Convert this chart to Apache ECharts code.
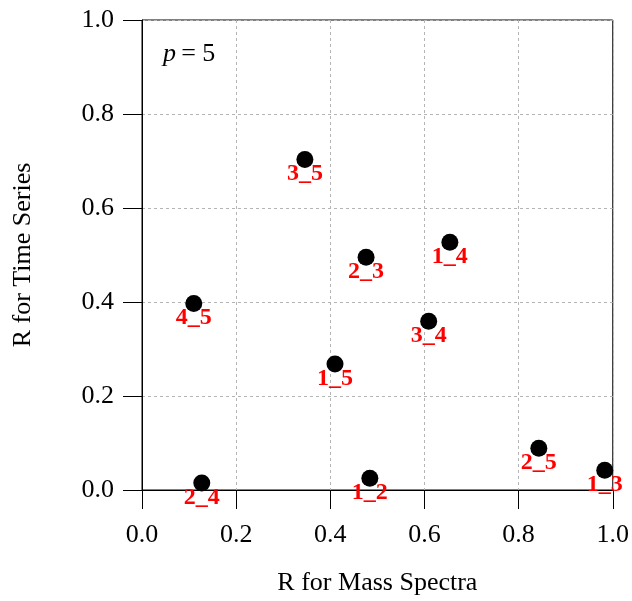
<!DOCTYPE html>
<html>
<head>
<meta charset="utf-8">
<script src="https://cdn.jsdelivr.net/npm/echarts@6/dist/echarts.min.js"></script>
<style>
  html, body { margin: 0; padding: 0; background: #fff; }
  #main { width: 632px; height: 601px; }
</style>
</head>
<body>
<div id="main"></div>
<script>
// pair names and their R values
var pairs = ['3_5', '2_3', '1_4', '3_4', '1_5', '4_5', '2_4', '1_2', '2_5', '1_3'];
var rMass = [0.346, 0.476, 0.654, 0.609, 0.410, 0.110, 0.127, 0.484, 0.843, 0.983];
var rTime = [0.703, 0.495, 0.527, 0.359, 0.268, 0.397, 0.015, 0.025, 0.089, 0.042];
var tickLabels = ['0.0', '0.2', '0.4', '0.6', '0.8', '1.0'];

var serif = '"Liberation Serif", "DejaVu Serif", serif';

var myChart = echarts.init(document.getElementById('main'));

var pts = pairs.map(function (p, i) {
    return { value: [rMass[i], rTime[i]], name: p };
});

function axis(name, gap, labelMargin) {
    return {
        type: 'value',
        min: 0, max: 1, interval: 0.2,
        name: name,
        nameLocation: 'middle',
        nameGap: gap,
        nameTextStyle: { fontFamily: serif, fontSize: 26, color: '#000' },
        axisLine: { show: true, onZero: false, lineStyle: { color: '#000', width: 1 } },
        axisTick: { show: true, inside: false, length: 19, lineStyle: { color: '#000' } },
        axisLabel: {
            fontFamily: serif, fontSize: 26, color: '#000', margin: labelMargin,
            formatter: function (v) { return tickLabels[Math.round(v / 0.2)]; }
        },
        splitLine: {
            show: true,
            lineStyle: { color: '#b4b4b4', type: [3, 3], width: 1 }
        }
    };
}

myChart.setOption({
    animation: false,
    grid: {
        left: 142, right: 19, top: 20, bottom: 110,
        show: true, borderColor: '#000', borderWidth: 1,
        backgroundColor: 'transparent'
    },
    xAxis: axis('R for Mass Spectra', 80, 32),
    yAxis: axis('R for Time Series', 106, 28),
    graphic: [{
        type: 'text',
        left: 163, top: 41,
        style: {
            rich: {
                i: { fontFamily: serif, fontSize: 26, fontStyle: 'italic', fill: '#000' },
                n: { fontFamily: serif, fontSize: 26, fill: '#000' }
            },
            text: '{i|p}{n|\u2009= 5}'
        }
    }],
    series: [{
        type: 'scatter',
        symbol: 'circle',
        symbolSize: 17,
        itemStyle: { color: '#000', opacity: 1 },
        data: pts,
        label: {
            show: true,
            position: 'bottom',
            distance: -6,
            formatter: '{b}',
            fontFamily: serif,
            fontWeight: 'bold',
            fontSize: 24,
            color: '#ff0000'
        }
    }]
});
</script>
</body>
</html>
